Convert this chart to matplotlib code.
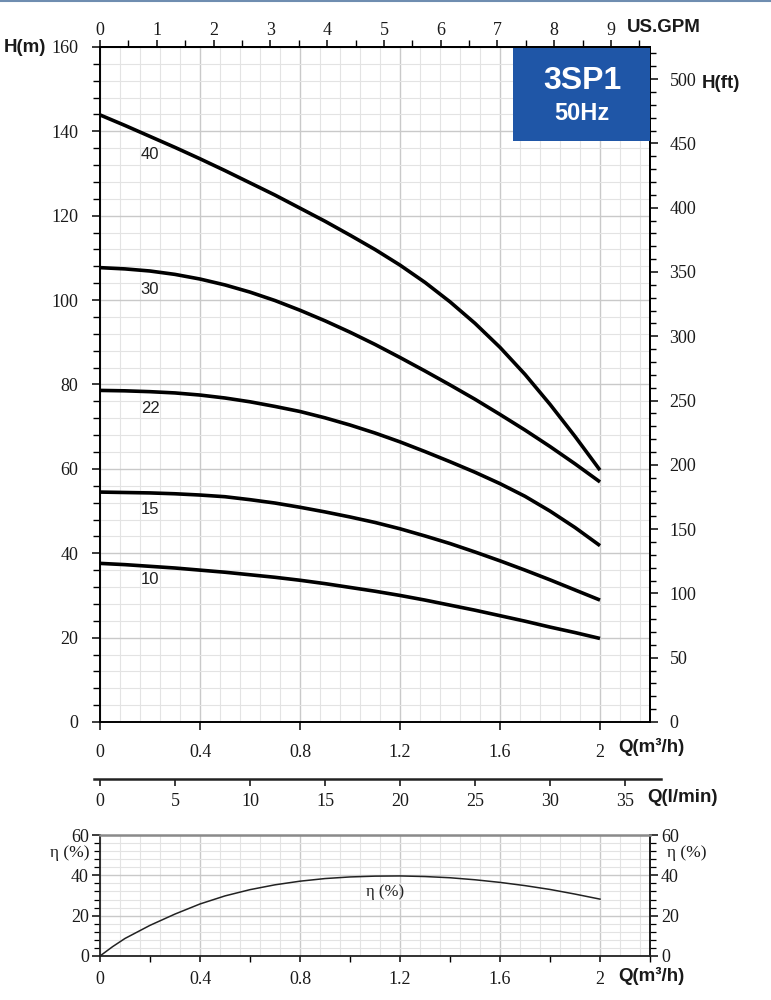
import numpy as np
import matplotlib
matplotlib.use("Agg")
import matplotlib.pyplot as plt
from matplotlib.patches import Rectangle
from matplotlib.lines import Line2D
from matplotlib.ticker import MultipleLocator, FixedLocator

plt.rcParams['font.family'] = ['Liberation Serif', 'DejaVu Serif']

# ---------------- data ----------------
q_pts = [0, 0.1, 0.2, 0.3, 0.4, 0.5, 0.6, 0.7, 0.8, 0.9, 1.0,
         1.1, 1.2, 1.3, 1.4, 1.5, 1.6, 1.7, 1.8, 1.9, 2.0]
h_40 = [143.9, 141.4, 138.8, 136.2, 133.5, 130.7, 127.8, 124.9, 121.8, 118.7, 115.4,
        112.0, 108.3, 104.2, 99.6, 94.5, 88.8, 82.4, 75.3, 67.7, 59.7]
h_30 = [107.7, 107.4, 106.9, 106.1, 105.0, 103.6, 101.9, 99.9, 97.6, 95.1, 92.4,
        89.5, 86.4, 83.2, 79.9, 76.5, 72.9, 69.2, 65.3, 61.2, 56.9]
h_22 = [78.6, 78.5, 78.3, 78.0, 77.5, 76.8, 75.9, 74.8, 73.6, 72.1, 70.4,
        68.5, 66.4, 64.1, 61.7, 59.2, 56.5, 53.5, 50.0, 46.1, 41.8]
h_15 = [54.5, 54.4, 54.3, 54.1, 53.8, 53.4, 52.7, 51.9, 50.9, 49.8, 48.6,
        47.3, 45.8, 44.1, 42.3, 40.3, 38.2, 36.0, 33.7, 31.3, 28.9]
h_10 = [37.6, 37.3, 36.9, 36.5, 36.0, 35.5, 34.9, 34.3, 33.6, 32.8, 31.9,
        31.0, 30.0, 28.9, 27.7, 26.5, 25.2, 23.9, 22.5, 21.2, 19.8]
curve_names = ['40', '30', '22', '15', '10']
curve_label_h = [134.4, 102.4, 74.4, 50.3, 33.7]

q_eff = [0, 0.05, 0.1, 0.2, 0.3, 0.4, 0.5, 0.6, 0.7, 0.8, 0.9, 1.0,
         1.1, 1.2, 1.3, 1.4, 1.5, 1.6, 1.7, 1.8, 1.9, 2.0]
eta = [0, 4.6, 8.7, 15.2, 20.8, 25.8, 29.8, 32.9, 35.3, 37.1, 38.4, 39.2,
       39.6, 39.7, 39.4, 38.8, 37.8, 36.5, 34.9, 33.0, 30.7, 28.2]

q_ticks = [0, 0.4, 0.8, 1.2, 1.6, 2.0]
q_tick_labels = ['0', '0.4', '0.8', '1.2', '1.6', '2']
h_ticks = [0, 20, 40, 60, 80, 100, 120, 140, 160]
ft_ticks = [0, 50, 100, 150, 200, 250, 300, 350, 400, 450, 500]
gpm_ticks = [0, 1, 2, 3, 4, 5, 6, 7, 8, 9]
lmin_ticks = [0, 5, 10, 15, 20, 25, 30, 35]
eta_ticks = [0, 20, 40, 60]

M3H_TO_GPM = 4.403
M_TO_FT = 3.281
M3H_TO_LMIN = 1000.0 / 60.0

W, H = 771, 1000
def fx(p): return p / W
def fy(p): return 1 - p / H

fig = plt.figure(figsize=(7.71, 10), dpi=100)
fig.patch.set_facecolor('white')

tick_col = '#1a1a1a'
minor_grid = '#e3e3e3'
major_grid = '#c9c9c9'
sans = ['Liberation Sans', 'DejaVu Sans']
TL = 13  # tick label size

def draw_grid(a, xmax, ymax, ystep, ymajor):
    for x in np.arange(0, xmax + 1e-9, 0.08):
        is_major = abs(x / 0.4 - round(x / 0.4)) < 1e-6
        a.axvline(x, color=major_grid if is_major else minor_grid, lw=1.0 if is_major else 0.8, zorder=0)
    for y in np.arange(0, ymax + 1e-9, ystep):
        is_major = abs(y / ymajor - round(y / ymajor)) < 1e-6
        a.axhline(y, color=major_grid if is_major else minor_grid, lw=1.0 if is_major else 0.8, zorder=0)

# ---------------- main axes ----------------
ax = fig.add_axes([fx(100), fy(722), 550 / W, 675 / H])
ax.set_xlim(0, 2.2)
ax.set_ylim(0, 160)
draw_grid(ax, 2.2, 160, 4, 20)

for hv in (h_40, h_30, h_22, h_15, h_10):
    ax.plot(q_pts, hv, color='black', lw=2.6, solid_capstyle='butt', solid_joinstyle='round', zorder=3)
for name, yl in zip(curve_names, curve_label_h):
    ax.text(0.2, yl, name, ha='center', va='center', fontsize=12, family=sans, color='#222222', zorder=4)

for s in ax.spines.values():
    s.set_color('black')
    s.set_linewidth(1.4)

ax.xaxis.set_major_locator(FixedLocator(q_ticks))
ax.set_xticklabels(q_tick_labels)
ax.yaxis.set_major_locator(FixedLocator(h_ticks))
ax.yaxis.set_minor_locator(MultipleLocator(4))
ax.tick_params(axis='x', which='major', direction='out', length=6, width=1.2, pad=9.5, labelsize=TL, colors=tick_col)
ax.tick_params(axis='y', which='major', direction='out', length=6, width=1.2, pad=9.5, labelsize=TL, colors=tick_col)
ax.tick_params(axis='y', which='minor', direction='out', length=5, width=1.0)

# top: US GPM
sec_top = ax.secondary_xaxis('top', functions=(lambda q: q * M3H_TO_GPM, lambda g: g / M3H_TO_GPM))
sec_top.xaxis.set_major_locator(FixedLocator(gpm_ticks))
sec_top.xaxis.set_minor_locator(MultipleLocator(0.5))
sec_top.tick_params(which='major', direction='out', length=5, width=1.2, pad=1, labelsize=TL, colors=tick_col)
sec_top.tick_params(which='minor', direction='out', length=5, width=1.0)
sec_top.spines['top'].set_linewidth(1.4)

# right: H(ft)
sec_r = ax.secondary_yaxis('right', functions=(lambda m: m * M_TO_FT, lambda f: f / M_TO_FT))
sec_r.yaxis.set_major_locator(FixedLocator(ft_ticks))
sec_r.yaxis.set_minor_locator(MultipleLocator(10))
sec_r.tick_params(which='major', direction='out', length=6, width=1.2, pad=8, labelsize=TL, colors=tick_col)
sec_r.tick_params(which='minor', direction='out', length=4, width=1.0)
sec_r.spines['right'].set_linewidth(1.4)

# ---------------- l/min axis ----------------
axl = fig.add_axes([fx(94), fy(779), 567 / W, 0.0001])
q_left = (94 - 100) / 250.0
q_right = (661 - 100) / 250.0
axl.set_xlim(q_left * M3H_TO_LMIN, q_right * M3H_TO_LMIN)
axl.set_ylim(0, 1)
axl.patch.set_visible(False)
for k in ('left', 'right', 'top'):
    axl.spines[k].set_visible(False)
axl.spines['bottom'].set_linewidth(1.8)
axl.spines['bottom'].set_color('#222222')
axl.set_yticks([])
axl.xaxis.set_major_locator(FixedLocator(lmin_ticks))
axl.tick_params(axis='x', direction='out', length=5, width=1.2, pad=5, labelsize=TL, colors=tick_col)

# ---------------- efficiency axes ----------------
ae = fig.add_axes([fx(100), fy(956), 550 / W, 121 / H])
ae.set_xlim(0, 2.2)
ae.set_ylim(0, 60)
draw_grid(ae, 2.2, 60, 4, 20)
ae.plot(q_eff, eta, color='#222222', lw=1.1, zorder=3)
ae.text(1.14, 31.5, 'η (%)', ha='center', va='center', fontsize=12, color='#222222')
for k in ('left', 'bottom', 'right'):
    ae.spines[k].set_color('#222222')
    ae.spines[k].set_linewidth(1.3)
ae.spines['top'].set_color('#8a8a8a')
ae.spines['top'].set_linewidth(1.8)
ae.xaxis.set_major_locator(FixedLocator(q_ticks))
ae.set_xticklabels(q_tick_labels)
ae.xaxis.set_minor_locator(MultipleLocator(0.2))
ae.yaxis.set_major_locator(FixedLocator(eta_ticks))
ae.yaxis.set_minor_locator(MultipleLocator(4))
ae.tick_params(axis='x', which='major', direction='out', length=4, width=1.2, pad=7, labelsize=TL, colors=tick_col)
ae.tick_params(axis='x', which='minor', direction='out', length=4, width=1.0)
ae.tick_params(axis='y', which='major', direction='out', length=6, width=1.2, pad=2, labelsize=TL, colors=tick_col)
ae.tick_params(axis='y', which='minor', direction='out', length=4, width=0.9)
ae_r = ae.secondary_yaxis('right')
ae_r.yaxis.set_major_locator(FixedLocator(eta_ticks))
ae_r.yaxis.set_minor_locator(MultipleLocator(4))
ae_r.tick_params(which='major', direction='out', length=6, width=1.2, pad=2, labelsize=TL, colors=tick_col)
ae_r.tick_params(which='minor', direction='out', length=4, width=0.9)
ae_r.spines['right'].set_linewidth(1.3)

# ---------------- unit labels ----------------
lab = dict(fontsize=13.5, fontweight='bold', family=sans, color='#1a1a1a', va='center', ha='left')
fig.text(fx(4), fy(47), 'H(m)', **lab)
fig.text(fx(627), fy(27), 'US.GPM', **lab)
fig.text(fx(702), fy(83), 'H(ft)', **lab)
fig.text(fx(618), fy(747), 'Q(m³/h)', **lab)
fig.text(fx(647), fy(797), 'Q(l/min)', **lab)
fig.text(fx(618), fy(976), 'Q(m³/h)', **lab)
fig.text(fx(50), fy(853), 'η (%)', fontsize=12.5, color='#1a1a1a', va='center', ha='left')
fig.text(fx(667), fy(853), 'η (%)', fontsize=12.5, color='#1a1a1a', va='center', ha='left')

# ---------------- badge ----------------
fig.add_artist(Rectangle((fx(513), fy(141)), 137 / W, 93 / H, transform=fig.transFigure,
                         facecolor='#1f56a7', edgecolor='none', zorder=5))
fig.text(fx(582), fy(81), '3SP1', fontsize=23, fontweight='bold', family=sans, color='white',
         ha='center', va='center', zorder=6)
fig.text(fx(582), fy(113), '50Hz', fontsize=17, fontweight='bold', family=sans, color='white',
         ha='center', va='center', zorder=6)

# top border line
fig.add_artist(Line2D([0, 1], [fy(1), fy(1)], transform=fig.transFigure, color='#6f8db0', lw=1.5))

fig.savefig('out.png', dpi=100, facecolor='white')
